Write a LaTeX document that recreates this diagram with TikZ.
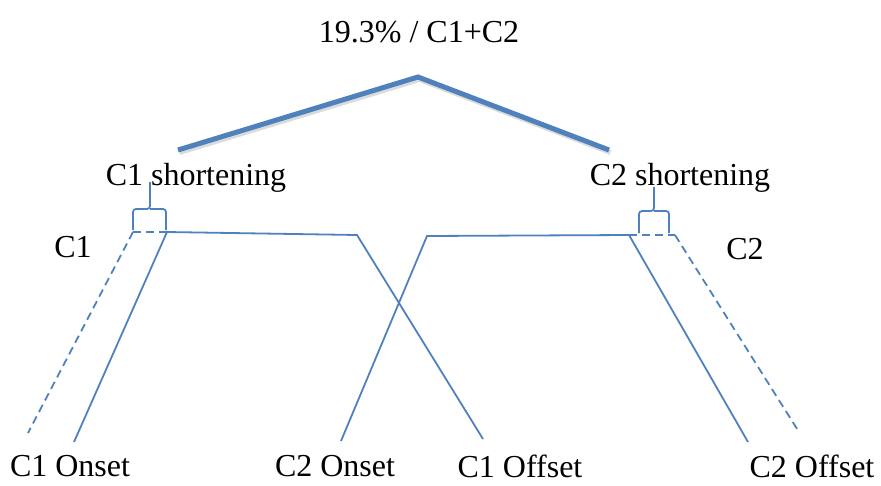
\documentclass[tikz,border=0pt]{standalone}
\usepackage{fontspec}
\setmainfont{Liberation Serif}
\definecolor{lblue}{RGB}{79,129,189}
\begin{document}
\begin{tikzpicture}[x=1pt,y=-1pt,
  lbl/.style={font=\fontsize{32}{38}\selectfont, inner sep=0pt, anchor=center},
  thin/.style={draw=lblue, line width=1.8pt},
  dsh/.style={draw=lblue, line width=1.8pt, dash pattern=on 8pt off 5pt},
  thick/.style={draw=lblue, line width=5pt},
  shadowline/.style={draw=black!40, line width=5pt, opacity=0.35}]
\useasboundingbox (0,0) rectangle (881,485);
% labels
\node[lbl] (title) at (419,32) {19.3\% / C1+C2};
\node[lbl] (s1) at (196,178) {C1 shortening};
\node[lbl] (s2) at (680,178) {C2 shortening};
\node[lbl] (c1) at (73,247) {C1};
\node[lbl] (c2) at (745,249) {C2};
\node[lbl] (on1) at (70,466) {C1 Onset};
\node[lbl] (on2) at (335,466) {C2 Onset};
\node[lbl] (of1) at (520,466) {C1 Offset};
\node[lbl] (of2) at (812,466) {C2 Offset};
% coordinates
\coordinate (apex) at (418,77);
\coordinate (tl) at (178,150);
\coordinate (tr) at (609,150);
\coordinate (a1) at (133,232);
\coordinate (b1) at (167,232);
\coordinate (m1) at (357,235);
\coordinate (e1) at (483,439);
\coordinate (f1) at (74,442);
\coordinate (g1) at (28,433);
\coordinate (m2) at (427,236);
\coordinate (b2) at (629,235);
\coordinate (a2) at (675,235);
\coordinate (e2) at (341,441);
\coordinate (f2) at (748,442);
\coordinate (g2) at (799,432);
% thick roof with shadow
\draw[shadowline] ([shift={(1.5,2.5)}]tl) -- ([shift={(1.5,2.5)}]apex) -- ([shift={(1.5,2.5)}]tr);
\draw[thick] (tl) -- (apex) -- (tr);
% C1 lines
\draw[dsh] (a1) -- (b1);
\draw[dsh] (a1) -- (g1);
\draw[thin] (f1) -- (b1) -- (m1) -- (e1);
% C2 lines
\draw[dsh] (b2) -- (a2);
\draw[dsh] (a2) -- (g2);
\draw[thin] (e2) -- (m2) -- (b2) -- (f2);
% braces
\draw[thin, rounded corners=3pt] (133,230) -- (133,209) -- (150,209) -- (150,182);
\draw[thin, rounded corners=3pt] (166,230) -- (166,209) -- (150,209);
\draw[thin, rounded corners=3pt] (639,233) -- (639,211) -- (654,211) -- (654,187);
\draw[thin, rounded corners=3pt] (669,233) -- (669,211) -- (654,211);
\end{tikzpicture}
\end{document}
